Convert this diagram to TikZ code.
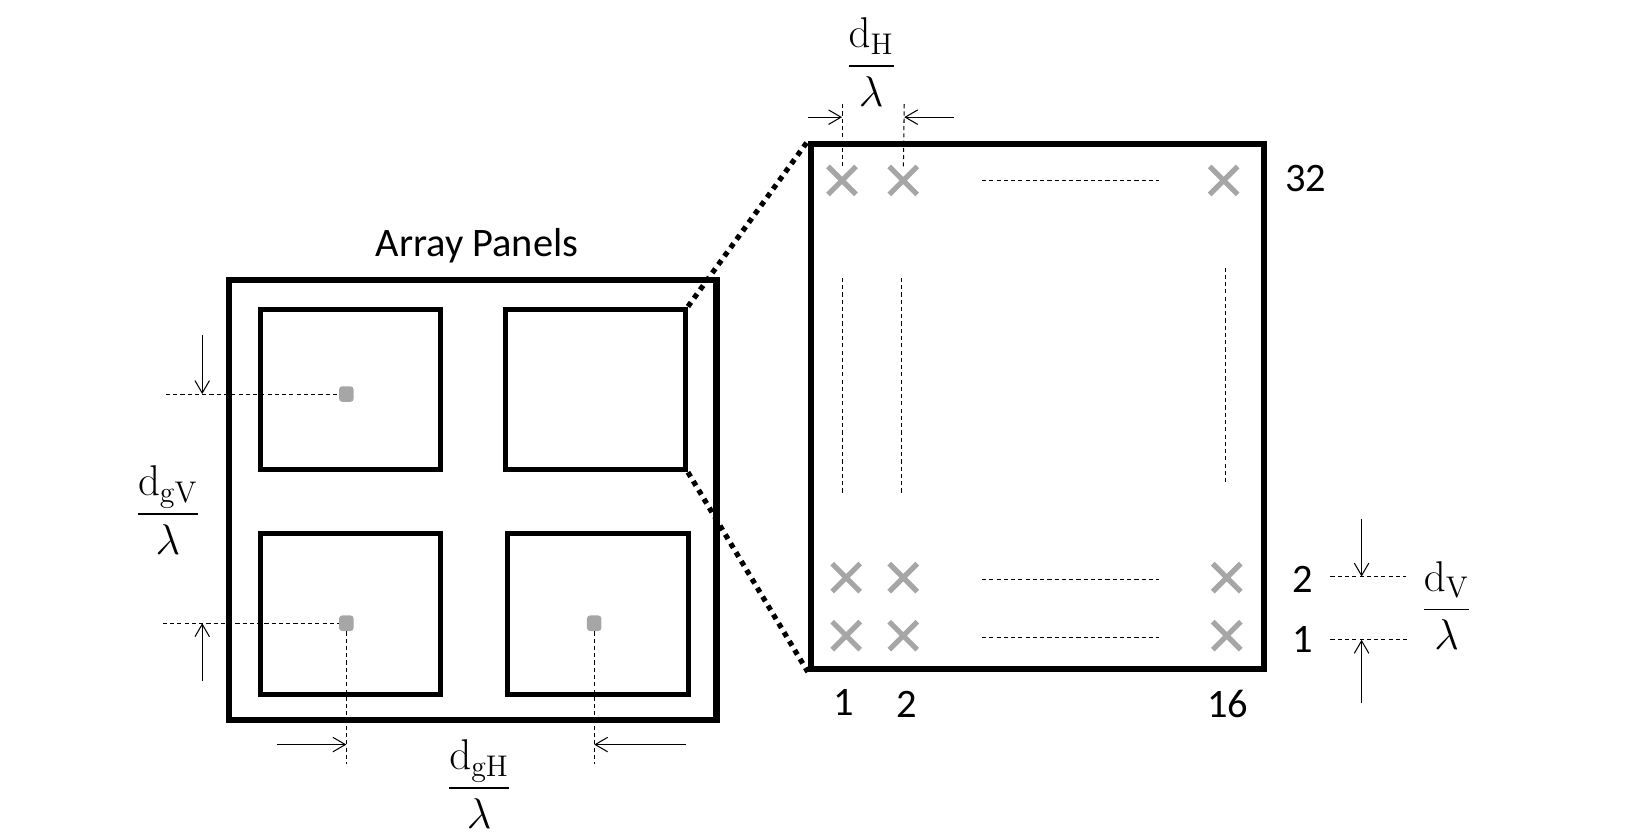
\documentclass[tikz,border=0pt]{standalone}
\usepackage[no-math]{fontspec}
\setmainfont{Carlito}
\usepackage{amsmath}
\usetikzlibrary{arrows.meta, shapes.misc}
\definecolor{elemgray}{RGB}{166,166,166}

\begin{document}
\begin{tikzpicture}[
    x=0.5pt, y=-0.5pt,
    every node/.style={font=\fontsize{19.5}{23}\selectfont},
    frame/.style={draw, line width=3pt, inner sep=0pt},
    panel/.style={draw, line width=2.4pt, minimum width=87pt, minimum height=77.5pt, inner sep=0pt},
    centre/.style={fill=elemgray, rounded corners=1.5pt, minimum width=7pt, minimum height=7.5pt, inner sep=0pt},
    elem/.style={cross out, draw=elemgray, line width=2.5pt, minimum size=11pt, inner sep=0pt},
    guide/.style={line width=0.5pt, dash pattern=on 2pt off 1.5pt},
    dimarrow/.style={-{Straight Barb[length=6pt, width=7pt]}, line width=0.5pt},
    zoomline/.style={line width=2.5pt, dash pattern=on 2.5pt off 2.5pt},
    frac/.style={font=\fontsize{20}{24}\selectfont}
]
\useasboundingbox (0,0) rectangle (1568,809);

% Array with four panels
\node[frame, minimum width=235pt, minimum height=212pt] (array) at (456,482) {};
\node (title) at (460,237) {Array Panels};
\node[panel] (pTL) at (338,375.5) {};
\node[panel] (pTR) at (574,375.5) {};
\node[panel] (pBL) at (338,592) {};
\node[panel] (pBR) at (576.5,592) {};

% Panel centres
\node[centre] (cTL) at (334,380) {};
\node[centre] (cBL) at (334,601) {};
\node[centre] (cBR) at (573,601) {};

% Vertical panel spacing
\coordinate (gV1) at (160,380);
\coordinate (gV2) at (157,601);
\coordinate (gVtop) at (195,323);
\coordinate (gVbot) at (195,657);
\draw[guide] (gV1) -- (cTL);
\draw[guide] (gV2) -- (cBL);
\draw[dimarrow] (gVtop) -- (gVtop |- cTL);
\draw[dimarrow] (gVbot) -- (gVbot |- cBL);
\node[frac] (gVlab) at (162,492) {$\dfrac{\mathrm{d}_{\mathrm{gV}}}{\lambda}$};

% Horizontal panel spacing
\coordinate (gH1) at (334,737);
\coordinate (gH2) at (573,737);
\coordinate (gHl) at (267,718);
\coordinate (gHr) at (662,718);
\draw[guide] (cBL) -- (gH1);
\draw[guide] (cBR) -- (gH2);
\draw[dimarrow] (gHl) -- (gHl -| cBL);
\draw[dimarrow] (gHr) -- (gHr -| cBR);
\node[frac] (gHlab) at (462,756) {$\dfrac{\mathrm{d}_{\mathrm{gH}}}{\lambda}$};

% Zoomed panel
\node[frame, minimum width=218.5pt, minimum height=253pt] (zoom) at (1000.5,392) {};
\draw[zoomline] (pTR.north east) -- (zoom.north west);
\draw[zoomline] (pTR.south east) -- (zoom.south west);

% Elements
\foreach \c/\x in {1/812, 2/871, 16/1180}
    \node[elem] (e\c-32) at (\x,174) {};
\foreach \c/\x in {1/816, 2/871, 16/1183} {
    \node[elem] (e\c-2) at (\x,557) {};
    \node[elem] (e\c-1) at (\x,613) {};
}

% Dots in between
\draw[guide] (947,174) -- (1118,174);
\draw[guide] (947,559) -- (1118,559);
\draw[guide] (947,615) -- (1118,615);
\draw[guide] (812,268) -- (812,475);
\draw[guide] (869,268) -- (869,475);
\draw[guide] (1182,258) -- (1182,465);

% Row and column numbers
\node (r32) at (1259,172) {32};
\node (r2) at (1256,559) {2};
\node (r1) at (1256,617) {1};
\node (k1) at (814,677) {1};
\node (k2) at (874,679) {2};
\node (k16) at (1184,679) {16};

% Horizontal element spacing
\coordinate (hL) at (812,100);
\coordinate (hR) at (872,98);
\coordinate (hLs) at (779,113);
\coordinate (hRs) at (920,113);
\draw[guide] (e1-32) -- (hL);
\draw[guide] (e2-32) -- (hR);
\draw[dimarrow] (hLs) -- (hLs -| hL);
\draw[dimarrow] (hRs) -- (hRs -| hR);
\node[frac] (hlab) at (840,60) {$\dfrac{\mathrm{d}_{\mathrm{H}}}{\lambda}$};

% Vertical element spacing
\coordinate (v2a) at (1283,556);
\coordinate (v2b) at (1356,556);
\coordinate (v1a) at (1283,617);
\coordinate (v1b) at (1357,617);
\coordinate (vTop) at (1313,500);
\coordinate (vBot) at (1313,678);
\draw[guide] (v2a) -- (v2b);
\draw[guide] (v1a) -- (v1b);
\draw[dimarrow] (vTop) -- (vTop |- v2a);
\draw[dimarrow] (vBot) -- (vBot |- v1a);
\node[frac] (vlab) at (1395,584) {$\dfrac{\mathrm{d}_{\mathrm{V}}}{\lambda}$};

\end{tikzpicture}
\end{document}
